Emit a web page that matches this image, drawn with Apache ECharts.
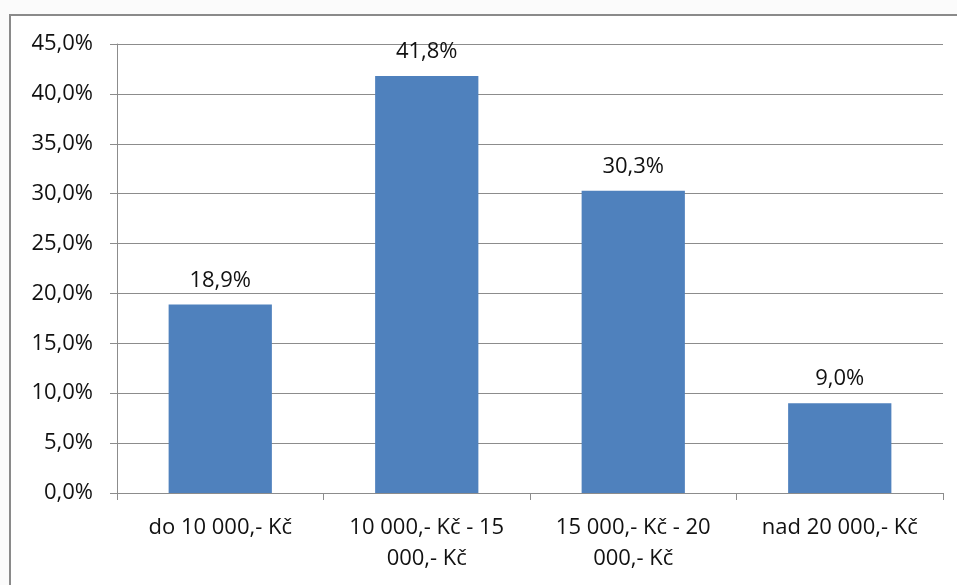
<!DOCTYPE html>
<html>
<head>
<meta charset="utf-8">
<script src="https://cdn.jsdelivr.net/npm/echarts@6/dist/echarts.min.js"></script>
<style>
  html, body { margin: 0; padding: 0; background: #fbfbfb; }
  #chart { width: 957px; height: 585px; }
</style>
</head>
<body>
<div id="chart"></div>
<script>
  // kategorie a hodnoty (%)
  var categories = ['do 10 000,- Kč', '10 000,- Kč - 15\n000,- Kč', '15 000,- Kč - 20\n000,- Kč', 'nad 20 000,- Kč'];
  var values = [18.9, 41.8, 30.3, 9.0];

  function pct(v) {
    return v.toFixed(1).replace('.', ',') + '%';
  }

  var chart = echarts.init(document.getElementById('chart'));
  var option = {
    backgroundColor: '#fbfbfb',
    animation: false,
    textStyle: { fontFamily: 'Open Sans, Liberation Sans, sans-serif' },
    graphic: [{
      type: 'rect',
      z: -1,
      shape: { x: 10, y: 15, width: 980, height: 620 },
      style: { fill: '#ffffff', stroke: '#8a8a8a', lineWidth: 2 }
    }],
    grid: { left: 117, right: 14, top: 44, bottom: 92 },
    xAxis: {
      type: 'category',
      data: categories,
      axisLine: { lineStyle: { color: '#8c8c8c', width: 1 } },
      axisTick: { show: true, length: 7, lineStyle: { color: '#8c8c8c' } },
      axisLabel: { color: '#111', fontSize: 22, margin: 19, lineHeight: 31, interval: 0 }
    },
    yAxis: {
      type: 'value',
      min: 0,
      max: 45,
      interval: 5,
      axisLine: { show: true, lineStyle: { color: '#8c8c8c', width: 1 } },
      axisTick: { show: true, length: 7, lineStyle: { color: '#8c8c8c' } },
      axisLabel: { color: '#111', fontSize: 22, margin: 24, formatter: pct },
      splitLine: { lineStyle: { color: '#8c8c8c', width: 1 } }
    },
    series: [{
      type: 'bar',
      data: values,
      barWidth: '50%',
      itemStyle: { color: '#4f81bd' },
      label: {
        show: true,
        position: 'top',
        distance: 13,
        color: '#111',
        fontSize: 22,
        formatter: function (p) { return pct(p.value); }
      }
    }]
  };
  chart.setOption(option);
</script>
</body>
</html>
